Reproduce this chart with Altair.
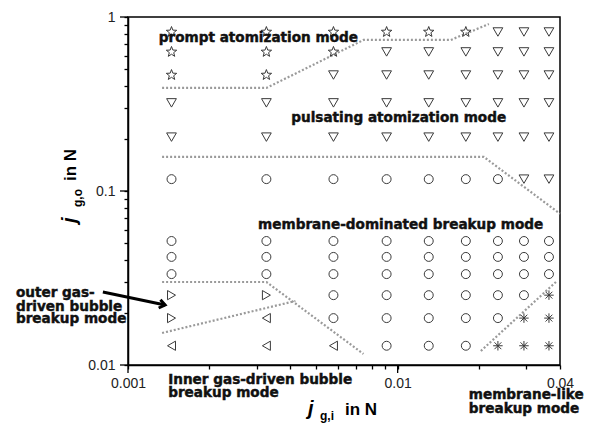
import altair as alt
import pandas as pd

# ---- data ----
x_cols = [0.00145, 0.00326, 0.00578, 0.0091, 0.01304, 0.0179, 0.02354, 0.0294, 0.0364]
y_rows = [0.82, 0.63, 0.464, 0.321, 0.204, 0.117, 0.0516, 0.0418, 0.0333, 0.0252, 0.0186, 0.0129]
# S = prompt atomization (star), D = pulsating atomization (down triangle),
# C = membrane-dominated (circle), R = outer gas-driven (right triangle),
# L = inner gas-driven (left triangle), A = membrane-like (asterisk)
mode_grid = [
    "SSSSSSDDD",
    "SSSDDDDDD",
    "SSDDDDDDD",
    "DDDDDDDDD",
    "DDDDDDDDD",
    "CCCCCCCDD",
    "CCCCCCCCC",
    "CCCCCCCCC",
    "CCCCCCCCC",
    "RRCCCCCCA",
    "RLCCCCCAA",
    "LLLCCCAAA",
]

prompt_x = [0.001338, 0.00326, 0.00747, 0.01574, 0.02179]
prompt_y = [0.391, 0.391, 0.738, 0.738, 0.911]
pulse_x = [0.001338, 0.02088, 0.04]
pulse_y = [0.157, 0.157, 0.074]
outer_up_x = [0.001338, 0.00326, 0.00747]
outer_up_y = [0.030, 0.030, 0.01157]
outer_low_x = [0.001338, 0.004177]
outer_low_y = [0.01528, 0.02333]
memb_x = [0.02035, 0.03899]
memb_y = [0.01204, 0.03039]

center_text = ["prompt atomization mode", "pulsating atomization mode",
               "membrane-dominated breakup mode"]
center_x = [0.003044, 0.01009, 0.01026]
center_y = [0.7575, 0.2627, 0.06377]

left_text = ["outer gas-", "driven bubble", "breakup mode",
             "Inner gas-driven bubble", "breakup mode",
             "membrane-like", "breakup mode"]
left_x = [0.000384, 0.000384, 0.000384, 0.001409, 0.001409, 0.01836, 0.01836]
left_y = [0.02593, 0.02154, 0.01838, 0.008199, 0.006903, 0.006725, 0.005587]

arrow_x = [0.000807, 0.001373]
arrow_y = [0.02627, 0.02212]

x_tick_values = [0.001, 0.002, 0.003, 0.004, 0.005, 0.006, 0.007, 0.008, 0.009,
                 0.01, 0.02, 0.03, 0.04]
y_tick_values = [0.01, 0.02, 0.03, 0.04, 0.05, 0.06, 0.07, 0.08, 0.09,
                 0.1, 0.2, 0.3, 0.4, 0.5, 0.6, 0.7, 0.8, 0.9, 1.0]
x_major = [0.001, 0.01]
y_major = [0.01, 0.1, 1.0]

# ---- styles ----
STAR = ("M0,-1L0.247,-0.34L0.951,-0.309L0.399,0.13L0.588,0.809L0,0.42"
        "L-0.588,0.809L-0.399,0.13L-0.951,-0.309L-0.247,-0.34Z")
ASTER = "M-1,0L1,0M0,-1L0,1M-0.72,-0.72L0.72,0.72M-0.72,0.72L0.72,-0.72"
mode_shapes = {
    "S": STAR, "D": "triangle-down", "C": "circle",
    "R": "triangle-right", "L": "triangle-left", "A": ASTER,
}
mode_sizes = {"S": 120, "D": 95, "C": 80, "R": 85, "L": 85, "A": 90}

pts = pd.DataFrame([
    {"x": xv, "y": yv, "shape": mode_shapes[c], "size": mode_sizes[c]}
    for yv, row in zip(y_rows, mode_grid)
    for xv, c in zip(x_cols, row)
])

lines = []
for name, (bx, by) in {"prompt": (prompt_x, prompt_y), "pulse": (pulse_x, pulse_y),
                       "outer_up": (outer_up_x, outer_up_y),
                       "outer_low": (outer_low_x, outer_low_y),
                       "memb": (memb_x, memb_y)}.items():
    for i, (a, b) in enumerate(zip(bx, by)):
        lines.append({"x": a, "y": b, "id": name, "i": i})
lines = pd.DataFrame(lines)

cdf = pd.DataFrame({"x": center_x, "y": center_y, "t": center_text})
ldf = pd.DataFrame({"x": left_x, "y": left_y, "t": left_text})
adf = pd.DataFrame({"x": arrow_x, "y": arrow_y, "i": [0, 1]})
tip = adf.iloc[[1]].reset_index(drop=True)
xmaj = pd.DataFrame({"x": x_major})
ymaj = pd.DataFrame({"y": y_major})

xscale = alt.Scale(type="log", domain=[0.001, 0.04], nice=False)
yscale = alt.Scale(type="log", domain=[0.01, 1], nice=False)

X = alt.X("x:Q", scale=xscale,
          axis=alt.Axis(
              values=x_tick_values, title=None, grid=False,
              labelExpr="datum.value == 0.001 ? '0.001' : datum.value == 0.01 ? '0.01' : datum.value == 0.04 ? '0.04' : ''",
              labelOverlap=False, labelFlush=False, labelPadding=7, tickSize=4,
          ))
Y = alt.Y("y:Q", scale=yscale,
          axis=alt.Axis(
              values=y_tick_values, title=None, grid=False,
              labelExpr="datum.value == 1 ? '1' : datum.value == 0.1 ? '0.1' : datum.value == 0.01 ? '0.01' : ''",
              labelOverlap=False, labelFlush=False, labelPadding=9, tickSize=4,
          ))

points = alt.Chart(pts).mark_point(filled=False, color="#3a3a3a", strokeWidth=1, opacity=1).encode(
    x=X, y=Y,
    shape=alt.Shape("shape:N", scale=None),
    size=alt.Size("size:Q", scale=None),
)

bounds = alt.Chart(lines).mark_line(color="#9a9a9a", strokeWidth=2.2, strokeDash=[2, 2]).encode(
    x=X, y=Y, detail="id:N", order="i:Q")

ann_font = "DejaVu Sans"
ann_style = dict(font=ann_font, fontWeight="bold", fontSize=13.6, color="#111",
                 stroke="#111", strokeWidth=0.45, baseline="middle")
center_lbl = alt.Chart(cdf).mark_text(align="center", **ann_style).encode(
    x=X, y=Y, text="t:N")
left_lbl = alt.Chart(ldf).mark_text(align="left", **ann_style).encode(
    x=X, y=Y, text="t:N")

arrow = alt.Chart(adf).mark_line(color="black", strokeWidth=3).encode(x=X, y=Y, order="i:Q")
arrow_head = alt.Chart(tip).mark_point(shape="M-1,-0.75L0,0L-1,0.75", filled=False, color="black",
                                       strokeWidth=3, size=130, angle=12, opacity=1).encode(x=X, y=Y)

# longer major ticks
xmaj_ticks = alt.Chart(xmaj).mark_rule(color="black", strokeWidth=1.3).encode(
    x=X, y=alt.value(348), y2=alt.value(356))
ymaj_ticks = alt.Chart(ymaj).mark_rule(color="black", strokeWidth=1.3).encode(
    y=Y, x=alt.value(-8), x2=alt.value(0))

title_rows = pd.DataFrame({"k": [0]})
def piece(txt, px, py, size, italic=False, angle=0):
    kw = dict(font="Liberation Sans", fontWeight="bold", fontSize=size, color="black",
              align="left", baseline="alphabetic", angle=angle)
    if italic:
        kw["fontStyle"] = "italic"
    return alt.Chart(title_rows).mark_text(**kw).encode(
        x=alt.value(px), y=alt.value(py), text=alt.value(txt))

titles = [
    piece("j", 180, 398, 20, italic=True),
    piece("g,i", 192, 403, 12),
    piece("in N", 217, 398, 17),
    piece("j", -52, 206, 20, italic=True, angle=270),
    piece("g,o", -46, 190, 12, angle=270),
    piece("in N", -52, 164, 17, angle=270),
]

chart = alt.layer(bounds, points, center_lbl, left_lbl, arrow, arrow_head,
                  xmaj_ticks, ymaj_ticks, *titles).properties(
    width=432, height=348,
    autosize=alt.AutoSizeParams(type="none"),
    padding={"left": 120, "top": 9, "right": 26, "bottom": 58},
    background="white",
).configure_view(stroke="black", strokeWidth=1.5).configure_axis(
    domainColor="black", domainWidth=1.5, tickColor="black", tickWidth=1.3,
    labelFont="Liberation Sans", labelFontSize=14, labelColor="#222",
)

chart.save("out.html", embed_options={"renderer": "svg", "actions": False})
